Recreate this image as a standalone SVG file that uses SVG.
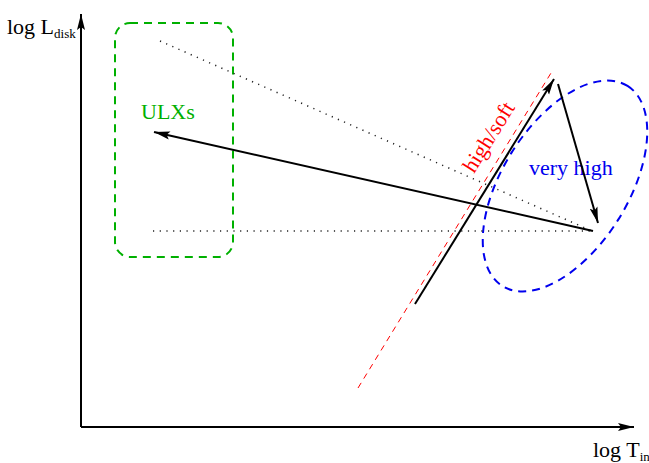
<svg xmlns="http://www.w3.org/2000/svg" width="649" height="463" viewBox="0 0 649 463">
<style>
.ax{stroke:#000;stroke-width:2;fill:none}
.arr{stroke:#000;stroke-width:2;fill:none;marker-end:url(#ah)}
.dot{stroke:#222;stroke-width:1.5;fill:none;stroke-dasharray:1.2 5.5}
.t{font-family:"Liberation Serif",serif;font-size:22px}
</style>
<defs>
<marker id="ah" markerUnits="userSpaceOnUse" markerWidth="18" markerHeight="10" viewBox="0 0 18 10" refX="16" refY="5" orient="auto">
<path d="M0,1 L16,5 L0,9 L3,5 Z" fill="#000"/>
</marker>
</defs>
<rect width="649" height="463" fill="#fff"/>
<g id="axes">
<path class="ax" d="M81,427 L81,14" marker-end="url(#ah)"/>
<path class="ax" d="M81,427 L634,427" marker-end="url(#ah)"/>
<text class="t" x="7" y="34" font-size="18">log L<tspan font-size="13" dy="4">disk</tspan></text>
<text class="t" x="593" y="457" font-size="18">log T<tspan font-size="13" dy="4">in</tspan></text>
</g>
<g id="ulx">
<rect x="115" y="23" width="118" height="234" rx="15" fill="none" stroke="#00b000" stroke-width="2" stroke-dasharray="8 6"/>
<text class="t" x="141" y="119" fill="#00b000">ULXs</text>
</g>
<g id="veryhigh">
<ellipse cx="565" cy="186" rx="118" ry="63" transform="rotate(-58 565 186)" fill="none" stroke="#0000ee" stroke-width="2" stroke-dasharray="8 6"/>
<text class="t" x="529" y="175" fill="#0000ee">very high</text>
</g>
<g id="highsoft">
<line x1="358" y1="388" x2="551" y2="73" stroke="#ff0000" stroke-width="1" stroke-dasharray="6 5"/>
<text class="t" x="0" y="0" fill="#ff0000" transform="translate(474,174) rotate(-58)">high/soft</text>
</g>
<g id="connectors">
<line class="dot" x1="160" y1="41" x2="592" y2="231"/>
<line class="dot" x1="153" y1="231" x2="592" y2="231"/>
<line class="arr" x1="593" y1="231" x2="154" y2="132"/>
<line class="arr" x1="415" y1="304" x2="554" y2="79"/>
<line class="arr" x1="558" y1="84" x2="598" y2="223"/>
</g>
</svg>
